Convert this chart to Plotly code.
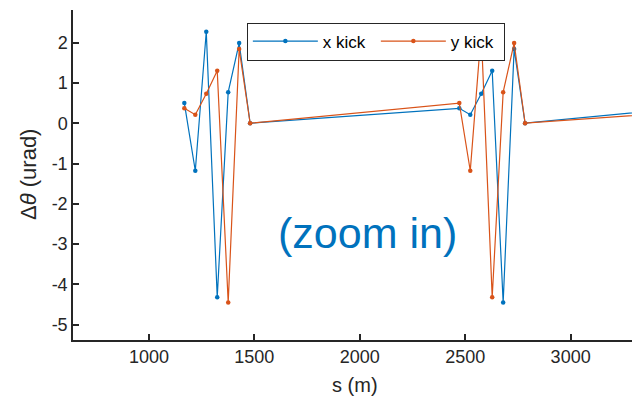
import plotly.graph_objects as go

# Positions along the ring (m) of the corrector kicks, three consecutive sections
s_pos = [1168, 1220, 1272, 1324, 1376, 1428, 1480,
         2472, 2524, 2576, 2628, 2680, 2732, 2784,
         3776, 3828, 3880, 3932, 3984, 4036, 4088]

# Kick changes (urad)
x_kick = [0.50, -1.18, 2.27, -4.32, 0.77, 1.99, 0.00,
          0.37, 0.21, 0.73, 1.30, -4.45, 1.84, 0.00,
          0.50, -1.18, 2.27, -4.32, 0.77, 1.99, 0.00]
y_kick = [0.37, 0.21, 0.73, 1.30, -4.45, 1.84, 0.00,
          0.50, -1.18, 2.27, -4.32, 0.77, 1.99, 0.00,
          0.37, 0.21, 0.73, 1.30, -4.45, 1.84, 0.00]

x_ticks = [1000, 1500, 2000, 2500, 3000]
x_labels = ["1000", "1500", "2000", "2500", "3000"]
y_ticks = [-5, -4, -3, -2, -1, 0, 1, 2]
y_labels = ["-5", "-4", "-3", "-2", "-1", "0", "1", "2"]

BLUE = "#0072BD"
ORANGE = "#D95319"
AXIS = "#262626"
FONT = "Liberation Sans, Arial, sans-serif"

fig = go.Figure()
fig.add_trace(go.Scatter(x=s_pos, y=x_kick, mode="lines+markers", name="x kick",
                         line=dict(color=BLUE, width=1.2),
                         marker=dict(color=BLUE, size=4.5)))
fig.add_trace(go.Scatter(x=s_pos, y=y_kick, mode="lines+markers", name="y kick",
                         line=dict(color=ORANGE, width=1.2),
                         marker=dict(color=ORANGE, size=4.5)))

fig.update_layout(
    width=632, height=400,
    margin=dict(l=73, r=0, t=10, b=60),
    paper_bgcolor="white", plot_bgcolor="white",
    font=dict(family=FONT, size=18, color=AXIS),
    showlegend=True,
    legend=dict(orientation="h", x=0.311, y=0.962, xanchor="left", yanchor="top",
                bgcolor="white", bordercolor=AXIS, borderwidth=1,
                font=dict(size=17, color="black"), entrywidth=48,
                itemwidth=65, tracegroupgap=0),
    xaxis=dict(range=[640, 3291], tickvals=x_ticks, ticktext=x_labels,
               showgrid=False, zeroline=False,
               showline=True, linecolor=AXIS, linewidth=1.5,
               ticks="inside", ticklen=6, tickcolor=AXIS, tickwidth=1.5,
               tickfont=dict(size=18, color=AXIS)),
    yaxis=dict(range=[-5.38, 2.81], tickvals=y_ticks, ticktext=y_labels,
               showgrid=False, zeroline=False,
               showline=True, linecolor=AXIS, linewidth=1.5,
               ticks="inside", ticklen=6, tickcolor=AXIS, tickwidth=1.5,
               tickfont=dict(size=18, color=AXIS)),
)

# Axis labels
fig.add_annotation(text="s (m)", xref="paper", yref="paper", x=0.504, y=-0.136,
                   xanchor="center", yanchor="middle", showarrow=False,
                   font=dict(size=20, color=AXIS))
fig.add_annotation(text="Δ<i>θ</i> (urad)", xref="paper", yref="paper",
                   x=-0.0805, y=0.5, xanchor="center", yanchor="middle",
                   textangle=-90, showarrow=False,
                   font=dict(size=22, color=AXIS))

# Zoom note
fig.add_annotation(text="(zoom in)", xref="paper", yref="paper", x=0.527, y=0.325,
                   xanchor="center", yanchor="middle", showarrow=False,
                   font=dict(size=43, color=BLUE))

fig.write_html("out.html")
